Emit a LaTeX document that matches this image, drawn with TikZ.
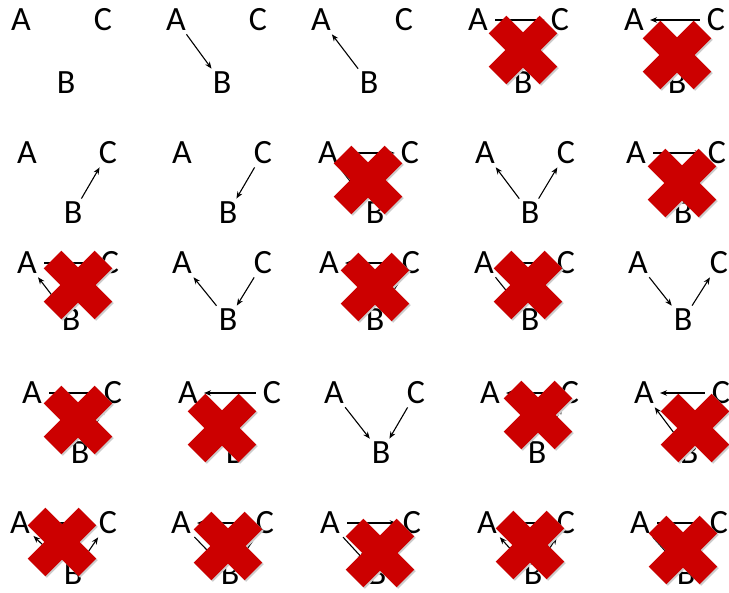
\documentclass[tikz,border=0pt]{standalone}
\usepackage{fontspec}
\setmainfont{Carlito}
\usetikzlibrary{arrows.meta}
\definecolor{xred}{HTML}{CC0000}
\newcommand\trio[7]{%
  \node[lbl] (A#1) at (#2,#3) {A};
  \node[lbl] (C#1) at (#4,#5) {C};
  \node[lbl] (B#1) at (#6,#7) {B};}
\newcommand\xcross[2]{%
  \begin{scope}[shift={(#1+1.5,#2+1.5)}]
    \fill[black!20,rotate=45] (-36,-12.5) rectangle (36,12.5);
    \fill[black!20,rotate=-45] (-36,-12.5) rectangle (36,12.5);
  \end{scope}
  \begin{scope}[shift={(#1,#2)}]
    \fill[xred,rotate=45] (-36,-12.5) rectangle (36,12.5);
    \fill[xred,rotate=-45] (-36,-12.5) rectangle (36,12.5);
  \end{scope}}
\begin{document}
\begin{tikzpicture}[x=1pt,y=-1pt,
  lbl/.style={font=\fontsize{34}{34}\selectfont, text height=21pt, text depth=0pt, inner sep=2pt},
  arr/.style={-{Stealth[length=7pt,width=5.5pt]}, line width=1.1pt, shorten >=2pt, shorten <=2pt},
  harr/.style={arr, shorten >=4pt, shorten <=5pt}]
\fill[white] (0,0) rectangle (729,593);
\useasboundingbox (0,0) rectangle (729,593);
% row 1
\trio{1}{21}{20}{103}{20}{66}{83}
\trio{2}{176}{20}{258}{20}{222}{83}
\trio{3}{321}{20}{404}{20}{369}{83}
\trio{4}{478}{20}{560}{20}{523}{83}
\trio{5}{634}{20}{716}{20}{677}{83}
% row 2
\trio{6}{27}{153}{108}{153}{73}{213}
\trio{7}{182}{153}{263}{153}{228}{213}
\trio{8}{328}{153}{410}{153}{375}{213}
\trio{9}{485}{153}{566}{153}{530}{213}
\trio{10}{636}{153}{717}{153}{683}{213}
% row 3
\trio{11}{27}{263}{110}{263}{71}{320}
\trio{12}{182}{263}{263}{263}{228}{320}
\trio{13}{329}{263}{411}{263}{375}{320}
\trio{14}{484}{263}{566}{263}{530}{320}
\trio{15}{638}{263}{719}{263}{683}{320}
% row 4
\trio{16}{32}{393}{113}{393}{80}{453}
\trio{17}{188}{393}{272}{393}{235}{453}
\trio{18}{334}{393}{416}{393}{381}{453}
\trio{19}{490}{393}{570}{393}{537}{453}
\trio{20}{644}{393}{721}{393}{689}{453}
% row 5
\trio{21}{20}{523}{108}{523}{73}{574}
\trio{22}{181}{523}{265}{523}{230}{574}
\trio{23}{330}{523}{412}{523}{377}{574}
\trio{24}{487}{523}{566}{523}{533}{574}
\trio{25}{640}{523}{719}{523}{686}{574}
% edges
\draw[arr] (A2) -- (B2);
\draw[arr] (B3) -- (A3);
\draw[harr] (A4) -- (C4);
\draw[harr] (C5) -- (A5);
\draw[arr] (B6) -- (C6);
\draw[arr] (C7) -- (B7);
\draw[harr] (A8) -- (C8); \draw[arr] (A8) -- (B8);
\draw[arr] (B9) -- (A9); \draw[arr] (B9) -- (C9);
\draw[harr] (A10) -- (C10); \draw[arr] (C10) -- (B10);
\draw[harr] (A11) -- (C11); \draw[arr] (B11) -- (A11);
\draw[arr] (C12) -- (B12); \draw[arr] (B12) -- (A12);
\draw[harr] (C13) -- (A13); \draw[arr] (C13) -- (B13);
\draw[harr] (C14) -- (A14); \draw[arr] (A14) -- (B14);
\draw[arr] (A15) -- (B15); \draw[arr] (B15) -- (C15);
\draw[harr] (A16) -- (C16); \draw[arr] (B16) -- (C16);
\draw[harr] (C17) -- (A17); \draw[arr] (B17) -- (A17);
\draw[arr] (A18) -- (B18); \draw[arr] (C18) -- (B18);
\draw[harr] (C19) -- (A19); \draw[arr] (B19) -- (C19);
\draw[harr] (C20) -- (A20); \draw[arr] (B20) -- (A20); \draw[arr] (C20) -- (B20);
\draw[harr] (C21) -- (A21); \draw[arr] (B21) -- (A21); \draw[arr] (B21) -- (C21);
\draw[harr] (C22) -- (A22); \draw[arr] (A22) -- (B22); \draw[arr] (C22) -- (B22);
\draw[harr] (A23) -- (C23); \draw[arr] (A23) -- (B23); \draw[arr] (C23) -- (B23);
\draw[harr] (A24) -- (C24); \draw[arr] (B24) -- (A24); \draw[arr] (B24) -- (C24);
\draw[harr] (A25) -- (C25); \draw[arr] (A25) -- (B25); \draw[arr] (B25) -- (C25);
% crosses
\xcross{523}{50}
\xcross{677}{55}
\xcross{368}{180}
\xcross{682}{183}
\xcross{78}{285}
\xcross{375}{287}
\xcross{528}{285}
\xcross{78}{420}
\xcross{222}{428}
\xcross{538}{415}
\xcross{695}{428}
\xcross{62}{542}
\xcross{228}{546}
\xcross{380}{553}
\xcross{530}{545}
\xcross{683}{550}
\end{tikzpicture}
\end{document}
